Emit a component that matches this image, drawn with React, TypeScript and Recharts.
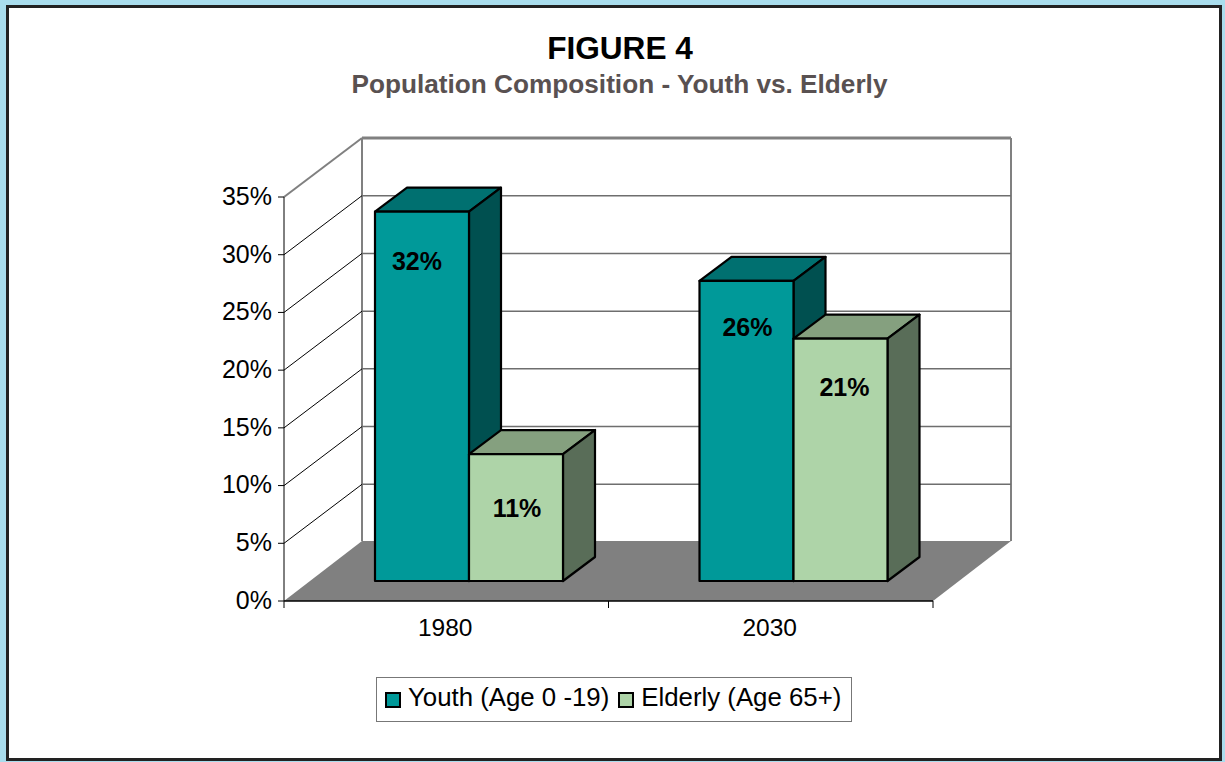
import React from 'react';
import { BarChart, Bar, XAxis, YAxis, CartesianGrid, Legend, LabelList } from 'recharts';

// Chart values
const years = ['1980', '2030'];
const youthShare = [32, 26];
const elderlyShare = [11, 21];
const percentTicks = [0, 5, 10, 15, 20, 25, 30, 35];

const rows = years.map((year, i) => ({ year, youth: youthShare[i], elderly: elderlyShare[i] }));

// Oblique projection of the room and of the boxes standing in it
const ROOM_DX = 78;
const ROOM_DY = 60;
const BOX_SHIFT_X = 23;
const BOX_SHIFT_Y = 20;
const BOX_DX = 32;
const BOX_DY = 24;

const WALL_GREY = '#808080';
const FONT = '"Liberation Sans", Arial, sans-serif';

type Faces = { front: string; top: string; side: string };
const YOUTH_FACES: Faces = { front: '#009999', top: '#007070', side: '#005050' };
const ELDERLY_FACES: Faces = { front: '#AED4A8', top: '#85A07F', side: '#596D58' };

// Draws the three visible faces of a box from the rectangle the bar scale gives
const box3d = (faces: Faces) => (props: any) => {
  const { x, y, width, height } = props;
  const l = x + BOX_SHIFT_X;
  const r = l + width;
  const t = y - BOX_SHIFT_Y;
  const b = t + height;
  const edge = { stroke: '#000', strokeWidth: 2.2, strokeLinejoin: 'round' as const };
  return (
    <g>
      <polygon points={`${l},${t} ${r},${t} ${r + BOX_DX},${t - BOX_DY} ${l + BOX_DX},${t - BOX_DY}`} fill={faces.top} {...edge} />
      <polygon points={`${r},${t} ${r + BOX_DX},${t - BOX_DY} ${r + BOX_DX},${b - BOX_DY} ${r},${b}`} fill={faces.side} {...edge} />
      <rect x={l} y={t} width={width} height={height} fill={faces.front} {...edge} />
    </g>
  );
};

// Each gridline runs up the side wall and then across the back wall
const roomLine = (props: any) => {
  const { x1, x2, y1, index } = props;
  const isFloor = y1 > 590;
  const isCeiling = y1 < 200;
  const bx = x1 + ROOM_DX;
  const by = y1 - ROOM_DY + 1;
  return (
    <g key={`room-${index}`}>
      {isFloor && (
        <polygon
          points={`${x1},${y1} ${x2},${y1} ${x2 + ROOM_DX},${y1 - ROOM_DY} ${bx},${y1 - ROOM_DY}`}
          fill={WALL_GREY}
        />
      )}
      {isFloor && (
        <>
          <line x1={bx} y1={y1 - ROOM_DY} x2={bx} y2={138} stroke={WALL_GREY} strokeWidth={2} />
          <line x1={x2 + ROOM_DX} y1={y1 - ROOM_DY} x2={x2 + ROOM_DX} y2={138} stroke={WALL_GREY} strokeWidth={2} />
        </>
      )}
      {!isFloor && (
        <>
          <line x1={x1} y1={y1} x2={bx} y2={by} stroke={isCeiling ? WALL_GREY : '#000'} strokeWidth={isCeiling ? 2 : 1} />
          <line x1={bx} y1={by} x2={x2 + ROOM_DX} y2={by} stroke={isCeiling ? WALL_GREY : '#6e6e6e'} strokeWidth={isCeiling ? 3 : 1.5} />
        </>
      )}
    </g>
  );
};

// Category label with tick marks on the band edges
const yearTick = (props: any) => {
  const { x, y, width, payload } = props;
  const band = width / years.length;
  return (
    <g>
      <line x1={x - band / 2} y1={y - 8} x2={x - band / 2} y2={y - 1} stroke="#000" />
      <line x1={x + band / 2} y1={y - 8} x2={x + band / 2} y2={y - 1} stroke="#000" />
      <text x={x - 1} y={y + 27} textAnchor="middle" fontFamily={FONT} fontSize={24.5} fill="#000">
        {payload.value}
      </text>
    </g>
  );
};

const valueLabel = (drop: number[], nudge: number[]) => (props: any) => {
  const { x, y, width, value, index } = props;
  return (
    <text
      x={x + BOX_SHIFT_X + width / 2 + nudge[index]}
      y={y - BOX_SHIFT_Y + drop[index]}
      textAnchor="middle"
      dominantBaseline="central"
      fontFamily={FONT}
      fontWeight={700}
      fontSize={25}
      fill="#000"
    >
      {`${value}%`}
    </text>
  );
};

const legendBox = (props: any) => (
  <div
    style={{
      boxSizing: 'border-box',
      width: 476,
      height: 45,
      border: '1.5px solid #777',
      background: '#fff',
      display: 'flex',
      alignItems: 'center',
      paddingLeft: 8,
      fontFamily: FONT,
      fontSize: 25.8,
      color: '#000',
      whiteSpace: 'nowrap',
    }}
  >
    {props.payload.map((item: any) => (
      <span key={item.value} style={{ display: 'inline-flex', alignItems: 'center', marginRight: 10 }}>
        <span
          style={{
            display: 'inline-block',
            boxSizing: 'border-box',
            width: 16,
            height: 16,
            border: '2px solid #000',
            background: item.color,
            marginRight: 7,
          }}
        />
        <span style={{ position: 'relative', top: -2, marginRight: -1 }}>{item.value}</span>
      </span>
    ))}
  </div>
);

export default function App() {
  return (
    <div style={{ position: 'absolute', left: 0, top: 0, width: 1225, height: 762, overflow: 'hidden', background: '#A9DDED' }}>
      <div
        style={{
          position: 'absolute',
          left: 6,
          top: 5,
          width: 1216,
          height: 756,
          boxSizing: 'border-box',
          border: '3px solid #222',
          background: '#fff',
        }}
      />
      <div style={{ position: 'absolute', left: 0, top: 30, width: 1240, textAlign: 'center', fontFamily: FONT, fontWeight: 700, fontSize: 31.6, color: '#000' }}>
        FIGURE 4
      </div>
      <div style={{ position: 'absolute', left: 0, top: 69, width: 1239, textAlign: 'center', fontFamily: FONT, fontWeight: 700, fontSize: 26.2, color: '#595151' }}>
        Population Composition - Youth vs. Elderly
      </div>
      <div style={{ position: 'absolute', left: 0, top: 0 }}>
        <BarChart
          width={1225}
          height={762}
          data={rows}
          margin={{ top: 197, right: 292, bottom: 76, left: 224 }}
          barSize={94}
          barGap={0}
          style={{ background: 'transparent' }}
        >
          <CartesianGrid horizontal={roomLine} vertical={false} />
          <XAxis dataKey="year" height={40} axisLine={{ stroke: '#000', strokeWidth: 1.5 }} tickLine={false} tick={yearTick} interval={0} />
          <YAxis
            width={60}
            domain={[0, 35]}
            ticks={percentTicks}
            interval={0}
            tickFormatter={(v: number) => `${v}%`}
            axisLine={{ stroke: '#000', strokeWidth: 1 }}
            tickLine={{ stroke: '#000' }}
            tickSize={6}
            tickMargin={6}
            tick={{ fontFamily: FONT, fontSize: 25, fill: '#000', dy: -1 }}
          />
          <Bar dataKey="youth" name="Youth (Age 0 -19)" fill={YOUTH_FACES.front} shape={box3d(YOUTH_FACES)} isAnimationActive={false}>
            <LabelList dataKey="youth" content={valueLabel([49, 46], [-5, 1])} />
          </Bar>
          <Bar dataKey="elderly" name="Elderly (Age 65+)" fill={ELDERLY_FACES.front} shape={box3d(ELDERLY_FACES)} isAnimationActive={false}>
            <LabelList dataKey="elderly" content={valueLabel([54, 48], [1, 4])} />
          </Bar>
          <Legend content={legendBox} itemSorter={null} wrapperStyle={{ left: 376, top: 677, width: 476, bottom: 'auto' }} />
        </BarChart>
      </div>
    </div>
  );
}
